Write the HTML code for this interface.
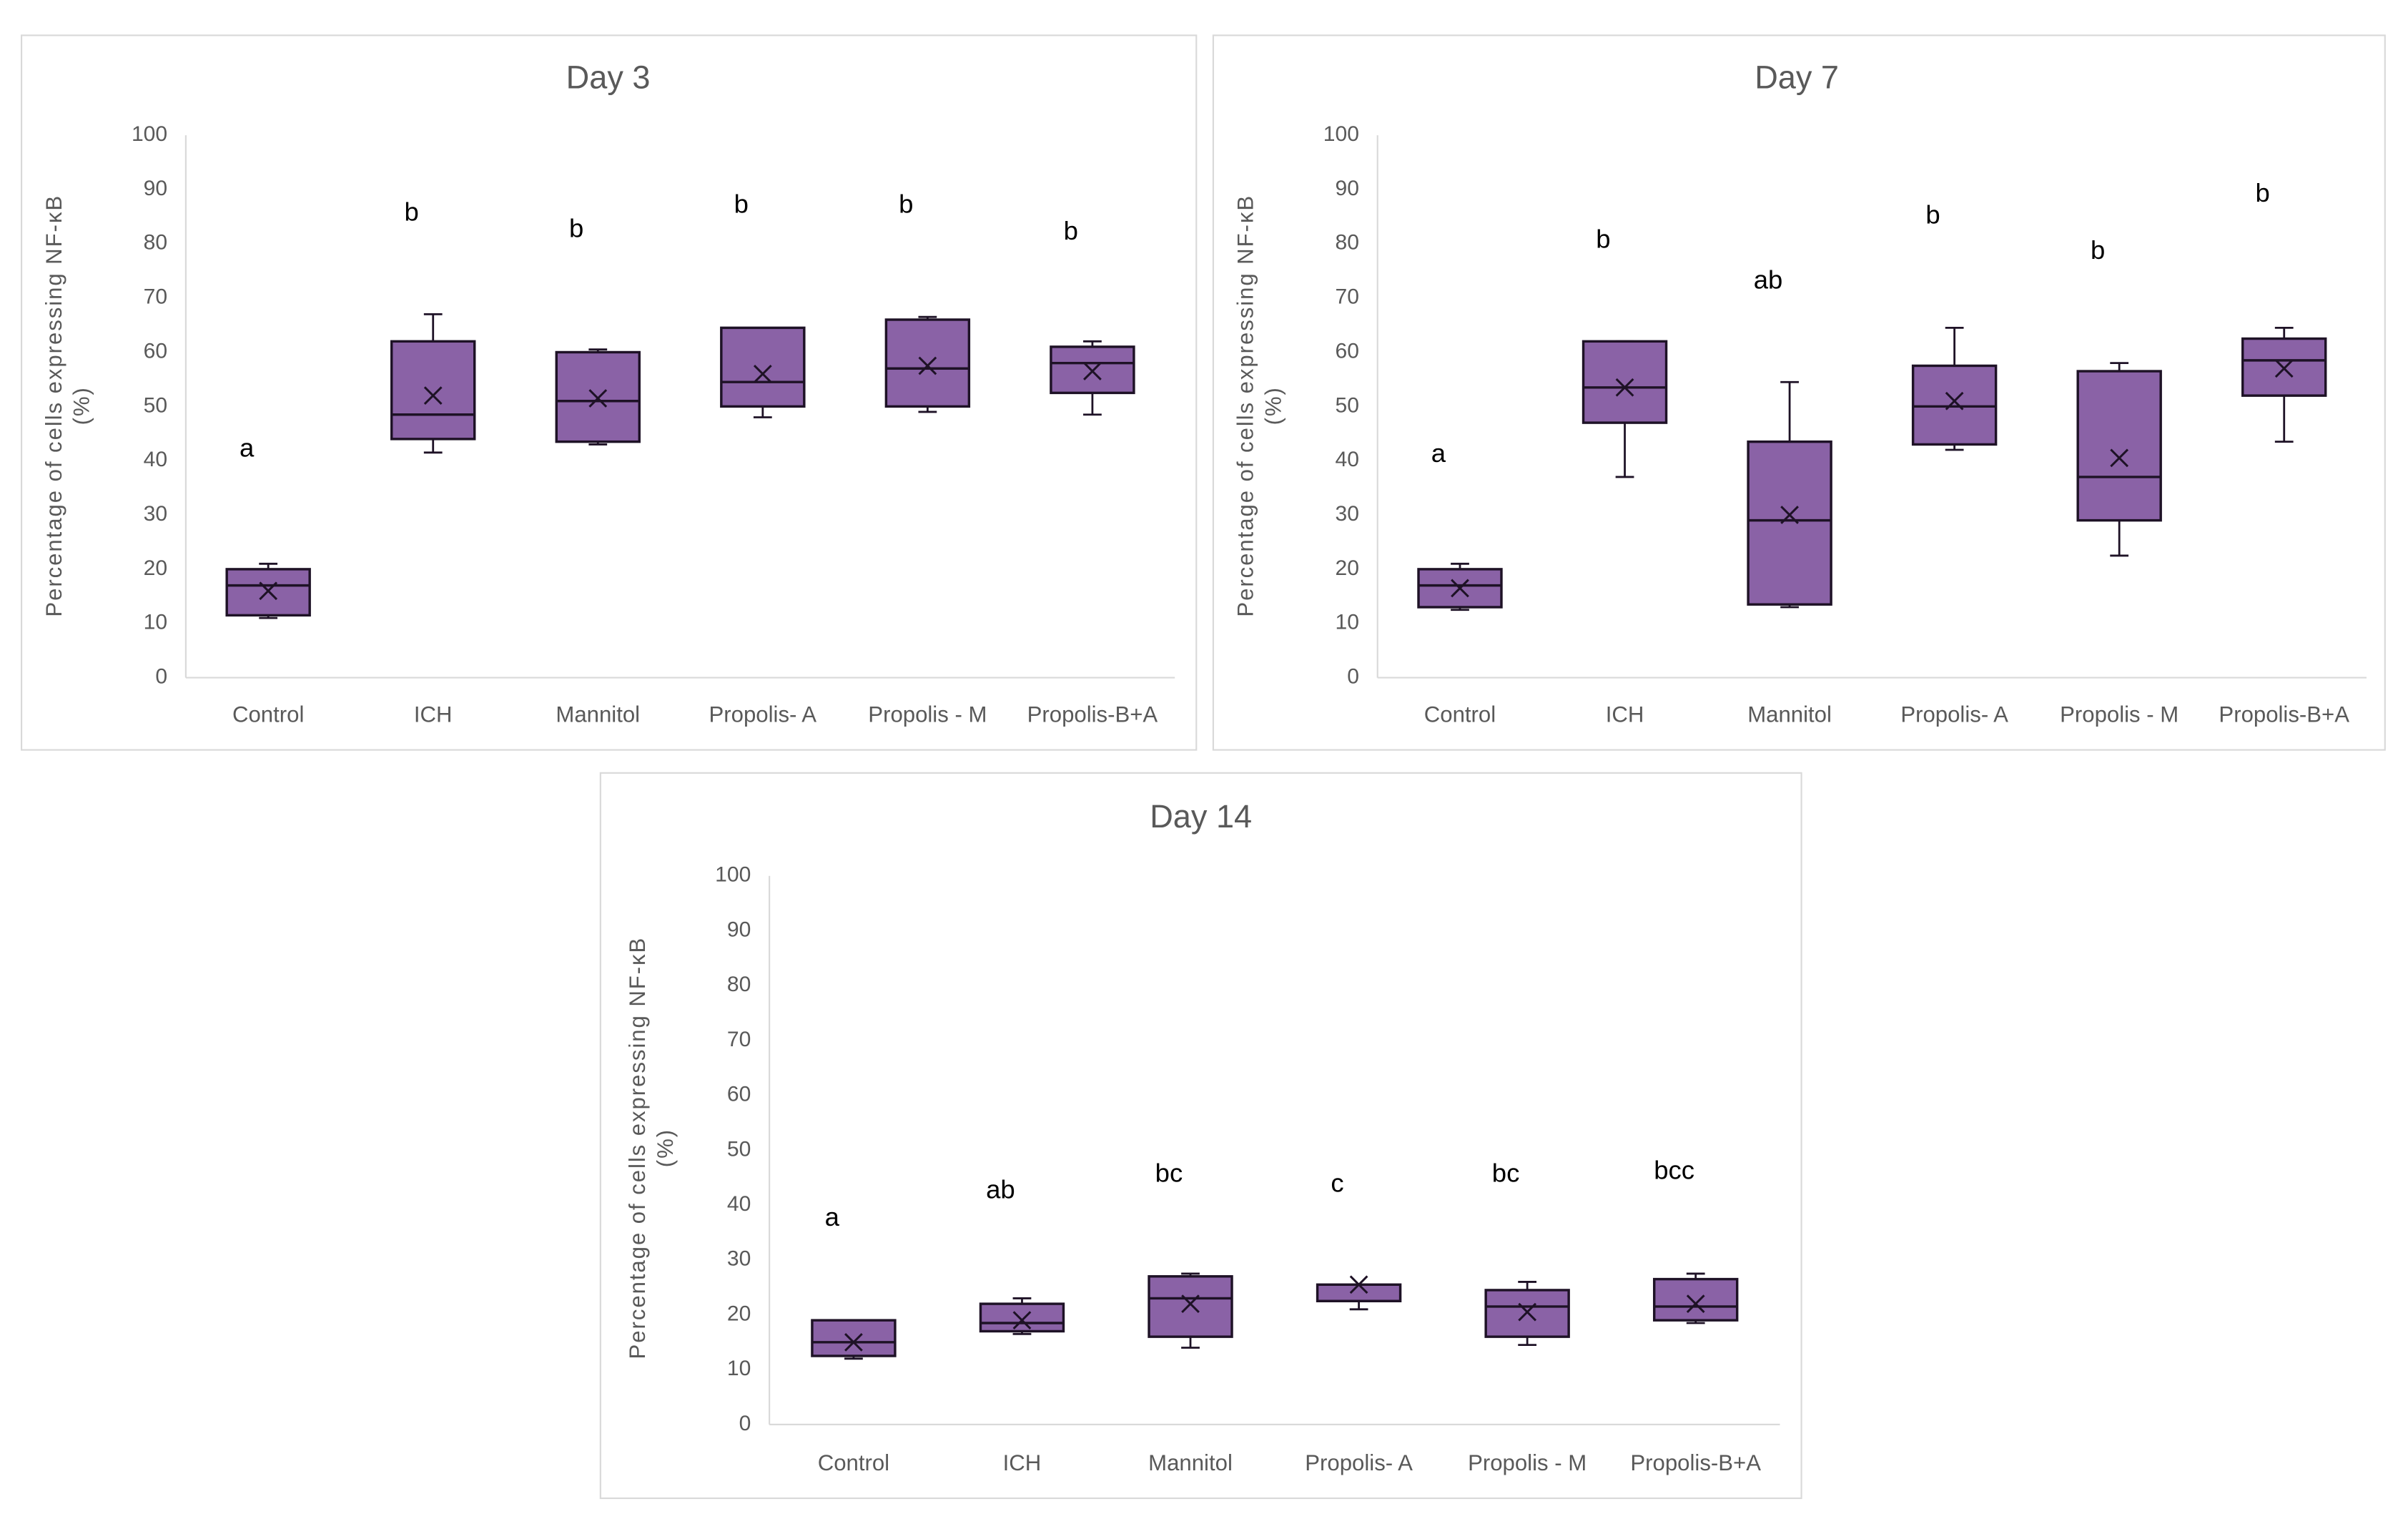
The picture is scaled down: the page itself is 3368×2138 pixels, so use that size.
<!DOCTYPE html>
<html><head><meta charset="utf-8"><style>
html,body{margin:0;padding:0;background:#fff;}
svg{display:block;}
text{font-family:"Liberation Sans",sans-serif;}
</style></head><body>
<svg id="chart" width="3368" height="2138" viewBox="0 0 1568 995" preserveAspectRatio="none" xmlns="http://www.w3.org/2000/svg"></svg>
<script>
const categories = ["Control","ICH","Mannitol","Propolis- A","Propolis - M","Propolis-B+A"];
const yTicks = [0,10,20,30,40,50,60,70,80,90,100];
// [min, q1, median, q3, max, mean]
const day3Stats = [[11,11.5,17,20,21,16],[41.5,44,48.5,62,67,52],[43,43.5,51,60,60.5,51.5],[48,50,54.5,64.5,64.5,56],[49,50,57,66,66.5,57.5],[48.5,52.5,58,61,62,56.5]];
const day3Letters = ["a","b","b","b","b","b"];
const day3LetterY = [42,85.5,82.5,87,87,82];
const day7Stats = [[12.5,13,17,20,21,16.5],[37,47,53.5,62,62,53.5],[13,13.5,29,43.5,54.5,30],[42,43,50,57.5,64.5,51],[22.5,29,37,56.5,58,40.5],[43.5,52,58.5,62.5,64.5,57]];
const day7Letters = ["a","b","ab","b","b","b"];
const day7LetterY = [41,80.5,73,85,78.5,89];
const day14Stats = [[12,12.5,15,19,19,15],[16.5,17,18.5,22,23,19],[14,16,23,27,27.5,22],[21,22.5,22.5,25.5,25.5,25.5],[14.5,16,21.5,24.5,26,20.5],[18.5,19,21.5,26.5,27.5,22]];
const day14Letters = ["a","ab","bc","c","bc","bcc"];
const day14LetterY = [37.5,42.5,45.5,43.7,45.5,46];

const NS="http://www.w3.org/2000/svg";
const svg=document.getElementById('chart');
function mk(tag,attrs,parent){const e=document.createElementNS(NS,tag);for(const k in attrs)e.setAttribute(k,attrs[k]);(parent||svg).appendChild(e);return e;}

const panels=[
 {name:"day-3",title:"Day 3",frame:[14,23,765,465],ax:121,axEnd:765,y0:441,y100:88,tx:396,ty:52,ylx:40,yly:264,labY:466,stats:day3Stats,letters:day3Letters,ly:day3LetterY},
 {name:"day-7",title:"Day  7",frame:[790,23,763,465],ax:897,axEnd:1541,y0:441,y100:88,tx:1170,ty:52,ylx:816,yly:264,labY:466,stats:day7Stats,letters:day7Letters,ly:day7LetterY},
 {name:"day-14",title:"Day 14",frame:[391,503,782,472],ax:501,axEnd:1159,y0:927,y100:570,tx:782,ty:533,ylx:420,yly:747,labY:953,stats:day14Stats,letters:day14Letters,ly:day14LetterY}
];
panels.forEach(p=>{
 const g=mk('g',{});
 
 
 const fr=mk('rect',{x:p.frame[0],y:p.frame[1],width:p.frame[2],height:p.frame[3],fill:'#fff',stroke:'#d9d9d9','stroke-width':1},g);
 
 
 const t=mk('text',{x:p.tx,y:p.ty,'text-anchor':'middle','dominant-baseline':'middle','font-size':21,fill:'#595959'},g);
 t.textContent=p.title;
 
 
 const yS=v=>p.y0+(p.y100-p.y0)*v/100;
 const step=(p.axEnd-p.ax)/categories.length;
 const xS=i=>p.ax+step*(i+0.5);
 const yl=mk('line',{x1:p.ax,y1:p.y100,x2:p.ax,y2:p.y0,stroke:'#d9d9d9','stroke-width':1},g);
 
 
 const xl=mk('line',{x1:p.ax,y1:p.y0,x2:p.axEnd,y2:p.y0,stroke:'#d9d9d9','stroke-width':1},g);
 
 
 yTicks.forEach(v=>{
  const tt=mk('text',{x:p.ax-12,y:yS(v),'text-anchor':'end','dominant-baseline':'middle','font-size':14,fill:'#595959'},g);
  tt.textContent=v;
  
  
 });
 const ytl=mk('text',{transform:`translate(${p.ylx},${p.yly}) rotate(-90)`,'text-anchor':'middle','font-size':14.5,'letter-spacing':0.9,fill:'#595959'},g);
 
 
 const s1=mk('tspan',{x:0,dy:0},ytl);s1.textContent='Percentage of cells expressing NF-κB';
 const s2=mk('tspan',{x:0,dy:18},ytl);s2.textContent='(%)';
 categories.forEach((c,i)=>{
  const cx=xS(i);
  const lt=mk('text',{x:cx,y:p.labY,'text-anchor':'middle','dominant-baseline':'middle','font-size':14.5,fill:'#595959'},g);
  lt.textContent=c;
  
  
  const [mn,q1,md,q3,mx,mean]=p.stats[i];
  const bw=54;
  const bg=mk('g',{},g);
  
  
  const sc='#1e1226';
  mk('line',{x1:cx,y1:yS(q3),x2:cx,y2:yS(mx),stroke:sc,'stroke-width':1.3},bg);
  mk('line',{x1:cx-6,y1:yS(mx),x2:cx+6,y2:yS(mx),stroke:sc,'stroke-width':1.3},bg);
  mk('line',{x1:cx,y1:yS(q1),x2:cx,y2:yS(mn),stroke:sc,'stroke-width':1.3},bg);
  mk('line',{x1:cx-6,y1:yS(mn),x2:cx+6,y2:yS(mn),stroke:sc,'stroke-width':1.3},bg);
  mk('rect',{x:cx-bw/2,y:yS(q3),width:bw,height:Math.max(yS(q1)-yS(q3),0.5),fill:'#8a62a6',stroke:sc,'stroke-width':1.6},bg);
  mk('line',{x1:cx-bw/2,y1:yS(md),x2:cx+bw/2,y2:yS(md),stroke:sc,'stroke-width':1.6},bg);
  const my=yS(mean),k=5.5;
  mk('path',{d:`M${cx-k},${my-k}L${cx+k},${my+k}M${cx-k},${my+k}L${cx+k},${my-k}`,stroke:sc,'stroke-width':1.4},bg);
  const L=mk('text',{x:cx-14,y:yS(p.ly[i]),'text-anchor':'middle','dominant-baseline':'middle','font-size':17,fill:'#000','font-family':'Liberation Serif, serif'},g);
  L.textContent=p.letters[i];
  
  
 });
});
</script>
</body></html>
